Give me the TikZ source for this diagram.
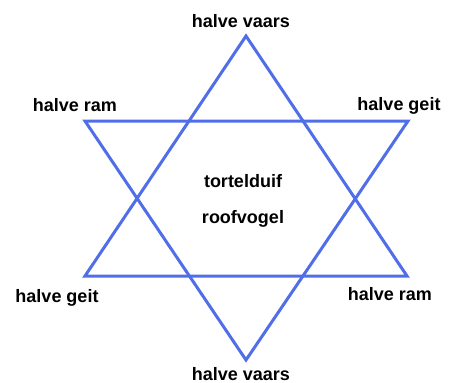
\documentclass[tikz,border=0pt]{standalone}
\usepackage{fontspec}
\setmainfont{Liberation Sans}
\usepackage{xcolor}
\definecolor{sterblauw}{RGB}{80,110,232}

\begin{document}
\begin{tikzpicture}[
        x=1pt, y=-1pt,
        every node/.style={
            font=\fontsize{18}{20}\selectfont\bfseries,
            inner sep=0pt,
            anchor=base
        },
        lijn/.style={
            draw=sterblauw,
            line width=3pt,
            line join=miter
        }
    ]

    \useasboundingbox (0,0) rectangle (451,383);

    % hoekpunten
    \coordinate (top) at (246,36);
    \coordinate (linksonder) at (85,276);
    \coordinate (rechtsonder) at (407,276);
    \coordinate (linksboven) at (85,121);
    \coordinate (rechtsboven) at (408,121);
    \coordinate (bodem) at (246,360);

    \draw[lijn] (top) -- (linksonder) -- (rechtsonder) -- cycle;
    \draw[lijn] (linksboven) -- (rechtsboven) -- (bodem) -- cycle;

    % teksten
    \node (vaarsboven) at (241,27) {halve vaars};
    \node (ramlinks) at (75,111) {halve ram};
    \node (geitrechts) at (399,110) {halve geit};
    \node (geitlinks) at (57,302) {halve geit};
    \node (ramrechts) at (390,300) {halve ram};
    \node (vaarsonder) at (241,380) {halve vaars};

    \node (duif) at (243,187) {tortelduif};
    \node (vogel) at (243,223) {roofvogel};

\end{tikzpicture}
\end{document}
